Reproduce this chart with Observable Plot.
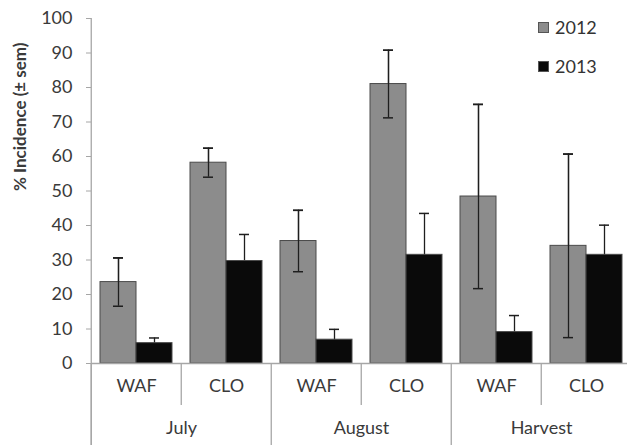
<!DOCTYPE html>
<html><head><meta charset="utf-8">
<script src="https://cdn.jsdelivr.net/npm/d3@7"></script>
<script src="https://cdn.jsdelivr.net/npm/@observablehq/plot@0.6"></script>
<style>
body{margin:0;background:#fff;}
#chart{position:relative;width:627px;height:445px;overflow:hidden;font-family:Lato,"Open Sans",sans-serif;}
.legend{position:absolute;left:538px;top:17px;font-size:18px;color:#333;}
.legend .row{display:flex;align-items:center;height:20px;margin-bottom:19px;}
.legend .sw{width:11px;height:11px;margin-right:6px;border:1px solid #555;box-sizing:border-box;}
</style></head><body><div id="chart"></div>
<script>
// ---- data ----
const months = ["July", "August", "Harvest"];
const treatments = ["WAF", "CLO"];
const years = ["2012", "2013"];
const values2012 = [23.6, 58.2, 35.5, 81.0, 48.4, 34.1];
const sem2012    = [7.0, 4.2, 8.9, 9.8, 26.7, 26.6];
const values2013 = [5.9, 29.7, 6.9, 31.5, 9.1, 31.5];
const sem2013    = [1.5, 7.7, 3.0, 12.0, 4.8, 8.6];
const yTicks = [0, 10, 20, 30, 40, 50, 60, 70, 80, 90, 100];
const yLabel = "% Incidence (± sem)";

// ---- build tables ----
const catRows = [];
months.forEach(m => treatments.forEach(t => catRows.push({cat: m + " " + t, month: m, trt: t})));
const catKeys = catRows.map(d => d.cat);
const rows = [];
catRows.forEach((c, i) => {
  rows.push({...c, year: years[0], v: values2012[i], e: sem2012[i]});
  rows.push({...c, year: years[1], v: values2013[i], e: sem2013[i]});
});
const rows2012 = rows.filter(d => d.year === years[0]);

// ---- layout ----
const W = 627, H = 445, mL = 89, mR = -5, mT = 18, mB = 82;
const fw = (W - mL - mR) / catKeys.length;
const plotH = H - mT - mB;
const axisGray = "#a6a6a6";
const textCol = "#3a3a3a";
const errCol = "#1e1e1e";

const firstOfMonth = catRows.filter(d => d.trt === treatments[0]);
const secondOfMonth = catRows.filter(d => d.trt === treatments[1]);

const errorMarks = (data) => [
  Plot.ruleX(data, {fx: "cat", x: "year", y1: d => d.v - d.e, y2: d => d.v + d.e, stroke: errCol, strokeWidth: 1.3}),
  Plot.tickY(data, {fx: "cat", x: "year", y: d => d.v - d.e, insetLeft: 13, insetRight: 13, stroke: errCol, strokeWidth: 1.5}),
  Plot.tickY(data, {fx: "cat", x: "year", y: d => d.v + d.e, insetLeft: 13, insetRight: 13, stroke: errCol, strokeWidth: 1.5})
];

const chart = Plot.plot({
  width: W, height: H,
  marginLeft: mL, marginRight: mR, marginTop: mT, marginBottom: mB,
  style: {fontFamily: "Lato, 'Open Sans', sans-serif", fontSize: "18px", background: "#fff", color: textCol},
  fx: {domain: catKeys, padding: 0, axis: null},
  x: {domain: years, paddingInner: 0, paddingOuter: 0.25, axis: null},
  y: {domain: [0, 100], axis: null},
  color: {domain: years, range: ["#8c8c8c", "#0a0a0a"]},
  marks: [
    Plot.axisY({ticks: yTicks, tickSize: 5, tickPadding: 14, fontSize: 18, fill: textCol, stroke: axisGray, label: null}),
    Plot.text([{cat: catKeys[0], t: yLabel}], {fx: "cat", text: "t", frameAnchor: "left", dx: -71, rotate: -90, fontWeight: "bold", fontSize: 17, fill: textCol}),
    // error bars behind bars (upper halves of dark bars show)
    ...errorMarks(rows),
    // bars
    Plot.barY(rows, {fx: "cat", x: "year", y: "v", fill: "year", stroke: "#4a4a4a", strokeWidth: 1}),
    // error bars over the grey bars
    ...errorMarks(rows2012),
    // baseline
    Plot.ruleY([0], {stroke: axisGray, strokeWidth: 1.3}),
    // y axis line
    Plot.ruleX([catRows[0]], {fx: "cat", x: null, dx: -fw / 2, insetBottom: -mB, stroke: axisGray, strokeWidth: 1.3}),
    // long dividers between months
    Plot.ruleX(firstOfMonth, {fx: "cat", x: null, dx: -fw / 2, insetTop: plotH, insetBottom: -mB, stroke: axisGray, strokeWidth: 1.3}),
    // short dividers between treatments
    Plot.ruleX(secondOfMonth, {fx: "cat", x: null, dx: -fw / 2, insetTop: plotH, insetBottom: -42, stroke: axisGray, strokeWidth: 1.3}),
    // treatment labels
    Plot.text(catRows, {fx: "cat", text: "trt", frameAnchor: "bottom", dy: 28, fontSize: 18, fill: textCol}),
    // month labels
    Plot.text(firstOfMonth, {fx: "cat", text: "month", frameAnchor: "bottom-right", textAnchor: "middle", dy: 70, fontSize: 18, fill: textCol})
  ]
});
const root = document.getElementById("chart");
root.appendChild(chart);

// legend
const lg = document.createElement("div");
lg.className = "legend";
const fills = ["#8c8c8c", "#0a0a0a"];
years.forEach((y, i) => {
  const r = document.createElement("div"); r.className = "row";
  const s = document.createElement("span"); s.className = "sw"; s.style.background = fills[i];
  const t = document.createElement("span"); t.textContent = y;
  r.appendChild(s); r.appendChild(t); lg.appendChild(r);
});
root.appendChild(lg);
</script></body></html>
